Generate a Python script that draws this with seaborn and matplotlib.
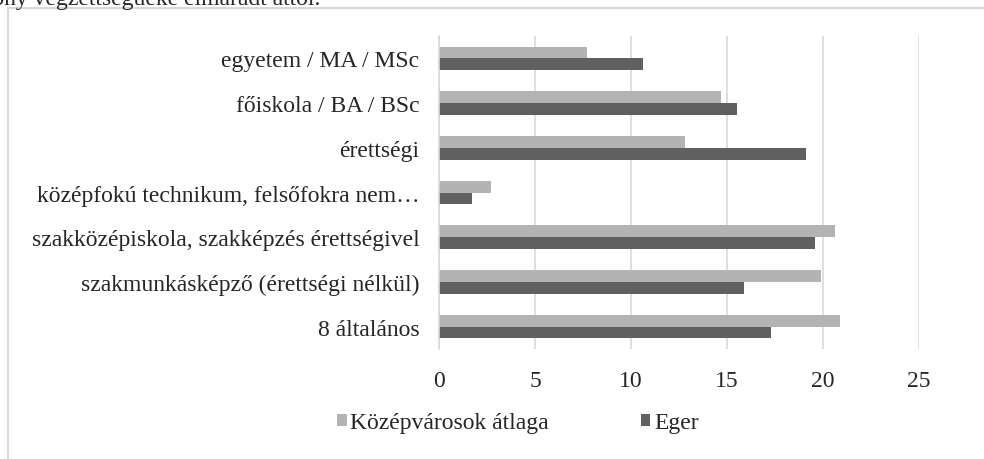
import pandas as pd
import matplotlib.pyplot as plt
import matplotlib.patches as mpatches
import seaborn as sns

# Végzettség kategóriák (fentről lefelé)
categories = [
    "egyetem / MA / MSc",
    "főiskola / BA / BSc",
    "érettségi",
    "középfokú technikum, felsőfokra nem…",
    "szakközépiskola, szakképzés érettségivel",
    "szakmunkásképző (érettségi nélkül)",
    "8 általános",
]
kozepvarosok = [7.7, 14.7, 12.8, 2.7, 20.6, 19.9, 20.9]
eger = [10.6, 15.5, 19.1, 1.7, 19.6, 15.9, 17.3]
series_names = ["Középvárosok átlaga", "Eger"]
x_ticks = [0, 5, 10, 15, 20, 25]

rows = []
for cat, a, b in zip(categories, kozepvarosok, eger):
    rows.append({"cat": cat, "series": series_names[0], "value": a})
    rows.append({"cat": cat, "series": series_names[1], "value": b})
df = pd.DataFrame(rows)

sns.set_style("white")
plt.rcParams['font.family'] = ['Liberation Serif', 'DejaVu Serif']

fig = plt.figure(figsize=(9.84, 4.6), dpi=100)
ax = fig.add_axes([439 / 984, 1 - 350 / 460, (919 - 439) / 984, (350 - 37) / 460])

palette = {"Középvárosok átlaga": "#b3b3b3", "Eger": "#606060"}
sns.barplot(data=df, y="cat", x="value", hue="series", order=categories,
            hue_order=series_names, palette=palette, orient="h",
            width=0.53, saturation=1, linewidth=0, ax=ax, legend=True)

ax.set_xlim(0, 25)
ax.set_xticks(x_ticks)
ax.set_xlabel("")
ax.set_ylabel("")
ax.grid(axis="x", color="#d9d9d9", linewidth=1.2)
ax.set_axisbelow(True)
for side in ["top", "right", "bottom"]:
    ax.spines[side].set_visible(False)
ax.spines["left"].set_color("#d9d9d9")
ax.spines["left"].set_linewidth(1.2)
ax.tick_params(axis="x", length=0, pad=15, labelsize=17)
ax.tick_params(axis="y", length=0, pad=14, labelsize=17)

ax.legend(loc="center", bbox_to_anchor=(518 / 984, 1 - 424 / 460),
          bbox_transform=fig.transFigure, ncol=2, frameon=False,
          fontsize=17, handlelength=0.4, handleheight=0.4,
          handletextpad=0.15, columnspacing=3.9)

# keret és a levágott szöveg a kép tetején
fig.patches.append(mpatches.Rectangle((8 / 984, -0.2), 1.2, 1 - 9 / 460 + 0.2,
                                      transform=fig.transFigure, fill=False,
                                      edgecolor="#d9d9d9", linewidth=1.5))
fig.text(320 / 984, 1 - 5 / 460, "alacsony végzettségűeké elmaradt attól.",
         ha="right", va="baseline", fontsize=17)

fig.savefig("out.png", dpi=100)
